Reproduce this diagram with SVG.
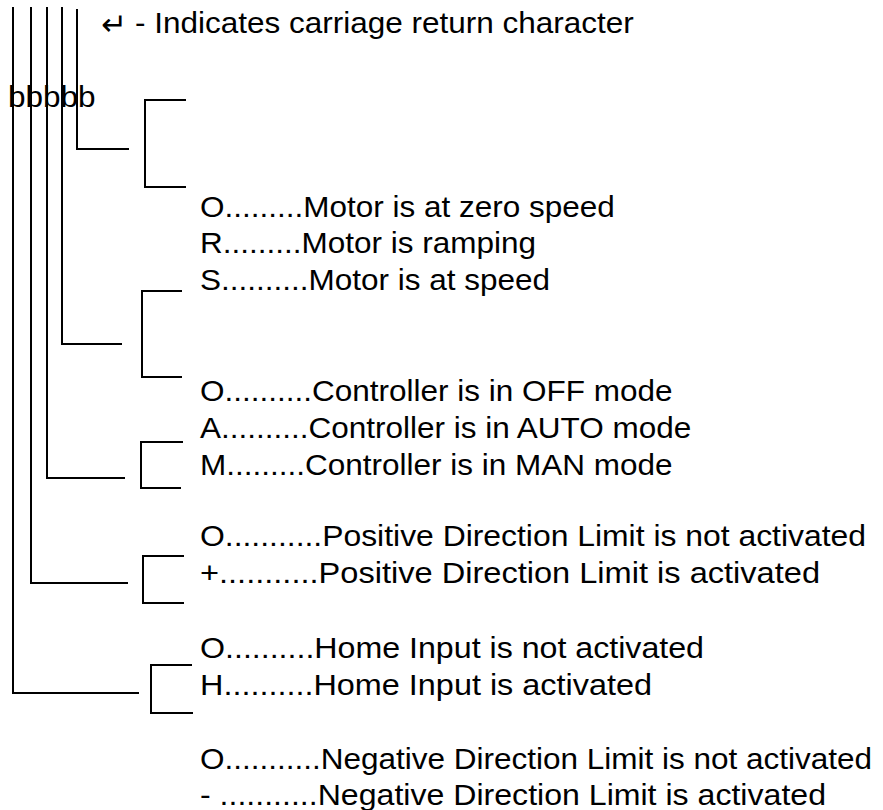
<svg xmlns="http://www.w3.org/2000/svg" width="883" height="810" viewBox="0 0 883 810">
<style>
text{font-family:"Liberation Sans",Arial,Helvetica,sans-serif;font-size:30px;fill:#000}
.sym{font-family:"DejaVu Sans",sans-serif;font-size:31px}
.ln{fill:none;stroke:#000;stroke-width:2}
</style>
<rect width="883" height="810" fill="#fff"/>
<g id="connectors">
<path class="ln" d="M13,7V693H139"/>
<path class="ln" d="M31,7V583H128"/>
<path class="ln" d="M47,7V478H125"/>
<path class="ln" d="M62,7V344H122"/>
<path class="ln" d="M77,9V149H129"/>
</g>
<g id="legend">
<text class="sym" x="101" y="35">↵</text>
<text transform="scale(1.05,1)" x="128.57" y="33">- Indicates carriage return character</text>
</g>
<g id="bits"><text transform="scale(1.05,1)" x="7.62" y="107">bbbbb</text></g>
<g id="motor">
<path class="ln" d="M186,100H145V187H186"/>
<g transform="scale(1.05,1)">
<text x="190.48" y="217">O.........Motor is at zero speed</text>
<text x="190.48" y="253">R.........Motor is ramping</text>
<text x="190.48" y="290">S..........Motor is at speed</text>
</g>
</g>
<g id="controller">
<path class="ln" d="M182,291H142V377H182"/>
<g transform="scale(1.05,1)">
<text x="190.48" y="401">O..........Controller is in OFF mode</text>
<text x="190.48" y="438">A..........Controller is in AUTO mode</text>
<text x="190.48" y="475">M.........Controller is in MAN mode</text>
</g>
</g>
<g id="positive">
<path class="ln" d="M183,442H141V488H181"/>
<text x="200" y="546" textLength="666" lengthAdjust="spacingAndGlyphs">O...........Positive Direction Limit is not activated</text>
<text x="200" y="583" textLength="620" lengthAdjust="spacingAndGlyphs">+...........Positive Direction Limit is activated</text>
</g>
<g id="home">
<path class="ln" d="M184,556H143V603H184"/>
<text x="200" y="658" textLength="504" lengthAdjust="spacingAndGlyphs">O..........Home Input is not activated</text>
<text x="200" y="695" textLength="452" lengthAdjust="spacingAndGlyphs">H..........Home Input is activated</text>
</g>
<g id="negative">
<path class="ln" d="M192,665H151V713H193"/>
<text x="200" y="769" textLength="672" lengthAdjust="spacingAndGlyphs">O...........Negative Direction Limit is not activated</text>
<text x="200" y="805" textLength="626" lengthAdjust="spacingAndGlyphs">- ...........Negative Direction Limit is activated</text>
</g>
</svg>
